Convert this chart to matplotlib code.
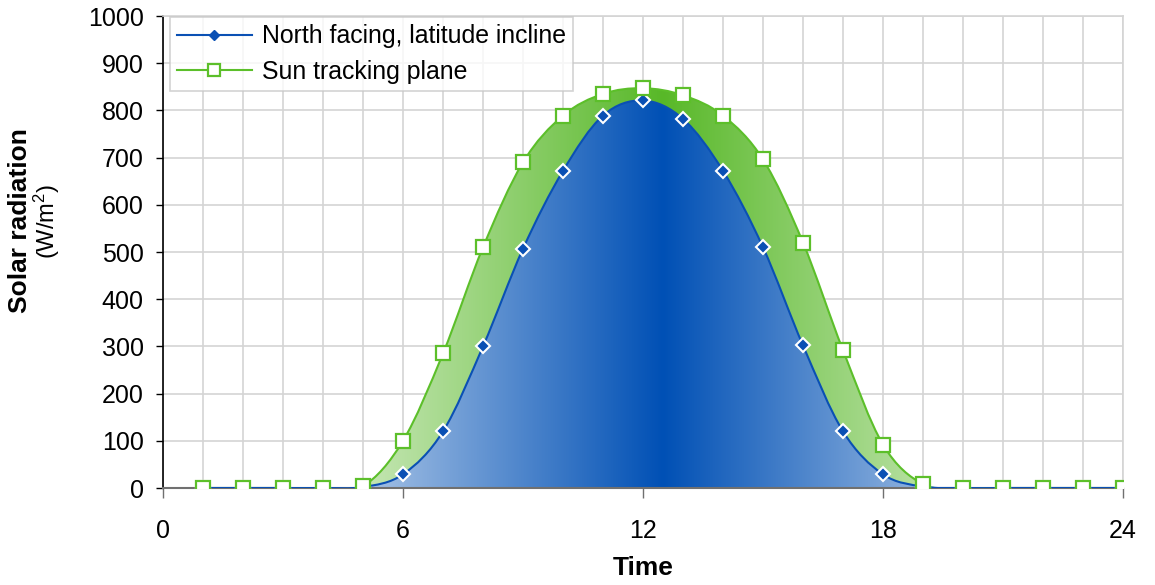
import numpy as np
import matplotlib
matplotlib.use('Agg')
import matplotlib.pyplot as plt
from matplotlib.path import Path
from matplotlib.patches import PathPatch
from matplotlib.lines import Line2D
from matplotlib.ticker import MultipleLocator

plt.rcParams['font.family'] = ['Liberation Sans', 'DejaVu Sans']
plt.rcParams['mathtext.default'] = 'regular'

# ---- data ----
hours = list(range(1, 25))
north = [0, 0, 0, 0, 2, 29, 120, 300, 507, 672, 789, 821,
         782, 672, 510, 302, 120, 29, 3, 0, 0, 0, 0, 0]
tracking = [0, 0, 0, 0, 4, 100, 285, 510, 690, 789, 835, 847,
            832, 789, 696, 520, 292, 92, 8, 0, 0, 0, 0, 0]
series_labels = ['North facing, latitude incline', 'Sun tracking plane']
x_ticks = [0, 6, 12, 18, 24]
y_ticks = list(range(0, 1001, 100))

BLUE = '#0A50B4'
GREEN = '#5CBF2A'


def smooth_path(xs, ys, area=False):
    P = np.column_stack([xs, ys]).astype(float)
    n = len(P)
    verts, codes = [], []
    if area:
        verts += [(P[0, 0], 0.0), P[0]]
        codes += [Path.MOVETO, Path.LINETO]
    else:
        verts.append(P[0])
        codes.append(Path.MOVETO)
    for i in range(n - 1):
        p0 = P[i - 1] if i > 0 else P[i]
        p1, p2 = P[i], P[i + 1]
        p3 = P[i + 2] if i + 2 < n else P[i + 1]
        c1 = p1 + (p2 - p0) / 6.0
        c2 = p2 - (p3 - p1) / 6.0
        verts += [c1, c2, p2]
        codes += [Path.CURVE4] * 3
    if area:
        verts += [(P[-1, 0], 0.0), (P[0, 0], 0.0)]
        codes += [Path.LINETO, Path.CLOSEPOLY]
    return Path(np.array(verts), codes)


def gradient_fill(ax, xs, ys, center_hex, z):
    patch = PathPatch(smooth_path(xs, ys, area=True), facecolor='none',
                      edgecolor='none', zorder=z)
    ax.add_patch(patch)
    c = np.array(matplotlib.colors.to_rgb(center_hex))
    gx = np.linspace(xs[0], xs[-1], 600)
    mid = 0.5 * (xs[0] + xs[-1])
    t = np.abs(gx - mid) / (mid - xs[0])
    img = c[None, :] * (1 - t[:, None]) + np.ones(3)[None, :] * t[:, None]
    im = ax.imshow(img[None, :, :], extent=[xs[0], xs[-1], 0, 1000],
                   aspect='auto', zorder=z, interpolation='bilinear')
    im.set_clip_path(patch)


fig = plt.figure(figsize=(11.55, 5.85), dpi=100)
ax = fig.add_axes([163 / 1155, 1 - 488 / 585, 960 / 1155, 472 / 585])

gradient_fill(ax, hours, tracking, '#58B828', 1)
gradient_fill(ax, hours, north, '#0050B5', 2)

ax.add_patch(PathPatch(smooth_path(hours, tracking), facecolor='none',
                       edgecolor=GREEN, lw=1.5, zorder=3))
ax.add_patch(PathPatch(smooth_path(hours, north), facecolor='none',
                       edgecolor=BLUE, lw=1.5, zorder=4))
ax.plot(hours, north, linestyle='none', marker='D', markersize=7,
        markerfacecolor=BLUE, markeredgecolor='white', markeredgewidth=1.5,
        zorder=5)
ax.plot(hours, tracking, linestyle='none', marker='s', markersize=9.5,
        markerfacecolor='white', markeredgecolor=GREEN, markeredgewidth=1.6,
        zorder=6)

ax.set_xlim(0, 24)
ax.set_ylim(0, 1000)
ax.set_xticks(x_ticks)
ax.set_yticks(y_ticks)
ax.xaxis.set_minor_locator(MultipleLocator(1))
ax.grid(True, which='both', axis='x', color='#D4D4D4', lw=1.2, zorder=0)
ax.grid(True, which='major', axis='y', color='#D4D4D4', lw=1.2, zorder=0)
ax.set_axisbelow(True)

ax.tick_params(axis='x', which='major', direction='out', length=7,
               color='#707070', width=1, labelsize=18, pad=15)
ax.tick_params(axis='x', which='minor', length=0)
ax.tick_params(axis='y', direction='out', length=5, color='black',
               width=1, labelsize=18, pad=9)

for s in ['top', 'right']:
    ax.spines[s].set_color('#D4D4D4')
    ax.spines[s].set_linewidth(1.2)
ax.spines['left'].set_color('black')
ax.spines['left'].set_linewidth(1.2)
ax.spines['bottom'].set_color('#707070')
ax.spines['bottom'].set_linewidth(1.5)

handles = [
    Line2D([], [], color=BLUE, lw=1.5, marker='D', markersize=5,
           markerfacecolor=BLUE, markeredgecolor=BLUE),
    Line2D([], [], color=GREEN, lw=1.5, marker='s', markersize=9,
           markerfacecolor='white', markeredgecolor=GREEN,
           markeredgewidth=1.6),
]
leg = ax.legend(handles, series_labels, loc='upper left',
                bbox_to_anchor=(0.007, 0.998), borderaxespad=0,
                fontsize=17.9, frameon=True, fancybox=False,
                handlelength=3.0, handletextpad=0.4, labelspacing=0.45,
                borderpad=0.3)
leg.get_frame().set_edgecolor('#C8C8C8')
leg.get_frame().set_linewidth(1.2)
leg.set_zorder(10)

fig.text(20 / 1155, 1 - 221 / 585, 'Solar radiation', rotation=90,
         fontsize=19, fontweight='bold', ha='center', va='center')
fig.text(47 / 1155, 1 - 222 / 585, '(W/m$^{2}$)', rotation=90,
         fontsize=17, ha='center', va='center')
fig.text(643 / 1155, 1 - 568 / 585, 'Time', fontsize=19,
         fontweight='bold', ha='center', va='center')

fig.savefig('out.png', dpi=100)
